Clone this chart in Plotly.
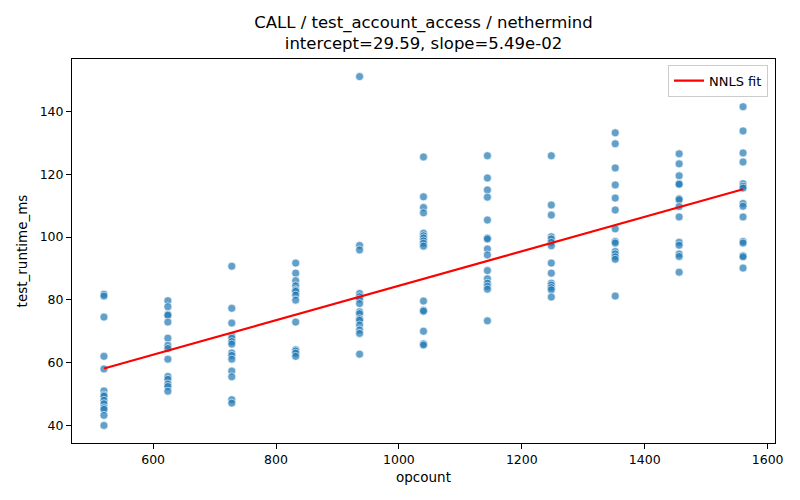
import plotly.graph_objects as go

opcounts = [520, 624, 728, 832, 936, 1040, 1144, 1248, 1352, 1456, 1560]
runtimes = [
    [81.8, 81.2, 74.5, 62.0, 58.0, 51.0, 49.7, 49.3, 48.0, 46.9, 45.6, 45.1, 43.2, 40.0],
    [79.7, 77.8, 75.3, 75.1, 72.9, 67.8, 65.5, 64.5, 61.1, 55.6, 54.7, 53.2, 52.4, 50.9],
    [90.7, 77.3, 72.6, 68.5, 67.8, 66.7, 65.9, 63.1, 62.3, 61.1, 57.3, 55.5, 48.2, 47.1],
    [91.7, 88.5, 86.1, 84.5, 83.1, 82.7, 81.5, 79.9, 72.9, 64.1, 63.7, 63.0, 62.0],
    [151.1, 97.3, 95.9, 82.0, 81.0, 80.2, 78.8, 76.2, 75.6, 74.0, 73.5, 72.0, 70.4, 69.3, 62.7],
    [125.5, 112.8, 109.4, 107.7, 101.2, 100.4, 99.7, 98.8, 98.0, 97.1, 79.6, 76.7, 76.4, 70.0, 66.0, 65.6],
    [125.9, 118.8, 115.0, 112.7, 105.4, 99.7, 99.4, 96.2, 94.3, 89.3, 86.7, 85.3, 84.3, 83.4, 73.3],
    [125.9, 110.2, 107.0, 100.1, 99.4, 98.3, 97.2, 91.7, 88.5, 85.3, 84.7, 83.9, 83.2, 80.9],
    [133.2, 129.7, 122.0, 116.6, 112.4, 108.6, 102.6, 98.6, 98.1, 95.4, 94.6, 93.7, 92.9, 81.2],
    [126.5, 123.3, 119.5, 117.0, 116.8, 112.2, 111.9, 109.7, 106.4, 98.3, 97.4, 94.6, 93.8, 88.8],
    [141.5, 133.8, 126.8, 123.9, 117.0, 116.2, 115.6, 110.7, 109.8, 106.4, 98.6, 98.1, 94.0, 93.7, 90.1],
]

intercept = 29.59
slope = 5.49e-02

xs, ys = [], []
for oc, vals in zip(opcounts, runtimes):
    for v in vals:
        xs.append(oc)
        ys.append(v)

fit_x = [min(opcounts), max(opcounts)]
fit_y = [intercept + slope * x for x in fit_x]

font = "DejaVu Sans"

fig = go.Figure()
fig.add_trace(go.Scatter(
    x=xs, y=ys, mode="markers", showlegend=False,
    marker=dict(size=8, color="rgba(31,119,180,0.7)",
                line=dict(color="white", width=0.6)),
))
fig.add_trace(go.Scatter(
    x=fit_x, y=fit_y, mode="lines", name="NNLS fit",
    line=dict(color="red", width=2.2),
))

axis_common = dict(
    showline=True, linecolor="black", linewidth=1, mirror=True,
    ticks="outside", ticklen=5, tickcolor="black",
    showgrid=False, zeroline=False, automargin=False,
    tickfont=dict(family=font, size=12.5, color="black"),
)

fig.update_layout(
    width=800, height=500,
    paper_bgcolor="white", plot_bgcolor="white",
    margin=dict(l=64, r=33, t=51, b=65),
    title=dict(
        text="CALL / test_account_access / nethermind<br>intercept=29.59, slope=5.49e-02",
        x=0.5, xref="paper", xanchor="center", y=0.96, yref="container", yanchor="top",
        font=dict(family=font, size=16.5, color="black"),
    ),
    xaxis=dict(range=[468, 1612], tickvals=[600, 800, 1000, 1200, 1400, 1600],
               title=dict(text="opcount", font=dict(family=font, size=13.5, color="black"), standoff=6),
               **axis_common),
    yaxis=dict(range=[34.4, 156.7], tickvals=[40, 60, 80, 100, 120, 140],
               title=dict(text="test_runtime_ms", font=dict(family=font, size=13.5, color="black"), standoff=8),
               **axis_common),
    legend=dict(x=0.99, y=0.985, xanchor="right", yanchor="top",
                bordercolor="#cccccc", borderwidth=1, bgcolor="rgba(255,255,255,0.8)",
                font=dict(family=font, size=13, color="black")),
)

fig.write_html("out.html")
